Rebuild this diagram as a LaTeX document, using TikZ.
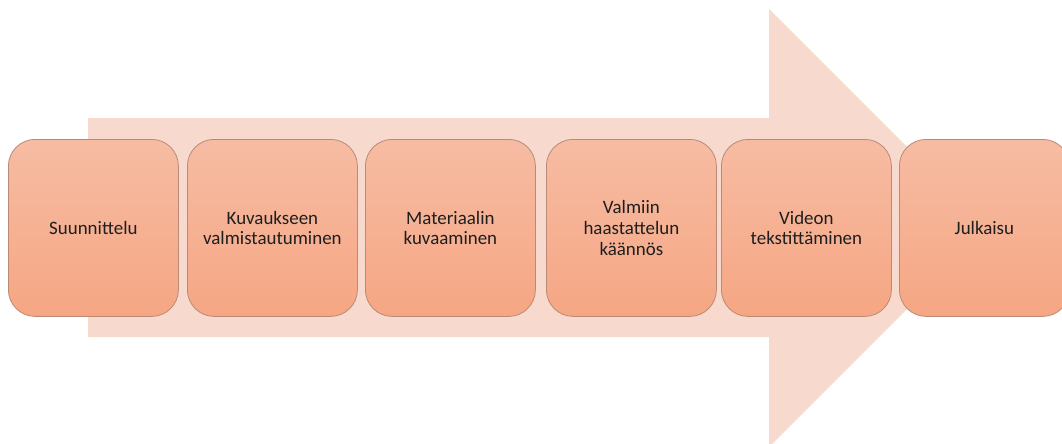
\documentclass[tikz,border=0pt]{standalone}
\usepackage{fontspec}
\setmainfont{Carlito}
\definecolor{arrowfill}{RGB}{248,217,206}
\definecolor{boxtop}{RGB}{246,188,163}
\definecolor{boxbot}{RGB}{246,166,131}
\definecolor{boxline}{RGB}{185,138,118}
\definecolor{txt}{RGB}{30,30,30}
\begin{document}
\begin{tikzpicture}[x=0.75pt,y=-0.75pt,
  stepbox/.style={rectangle, rounded corners=20pt, draw=boxline, line width=0.6pt,
    top color=boxtop, bottom color=boxbot, minimum width=127.5pt, minimum height=132.75pt,
    anchor=north west, align=center, text=txt, inner sep=2pt,
    font=\fontsize{14.2pt}{15.5pt}\selectfont}]
\useasboundingbox (0,0) rectangle (1062,443);
\clip (0,0) rectangle (1062,443);
\fill[arrowfill] (88,118) -- (769,118) -- (769,9) -- (988,228) -- (769,447) -- (769,337) -- (88,337) -- cycle;
\node[stepbox] (s1) at (8,139) {Suunnittelu};
\node[stepbox] (s2) at (187,139) {Kuvaukseen\\valmistautuminen};
\node[stepbox] (s3) at (365,139) {Materiaalin\\kuvaaminen};
\node[stepbox] (s4) at (546,139) {Valmiin\\haastattelun\\käännös};
\node[stepbox] (s5) at (721,139) {Videon\\tekstittäminen};
\node[stepbox] (s6) at (899,139) {Julkaisu};
\end{tikzpicture}
\end{document}
